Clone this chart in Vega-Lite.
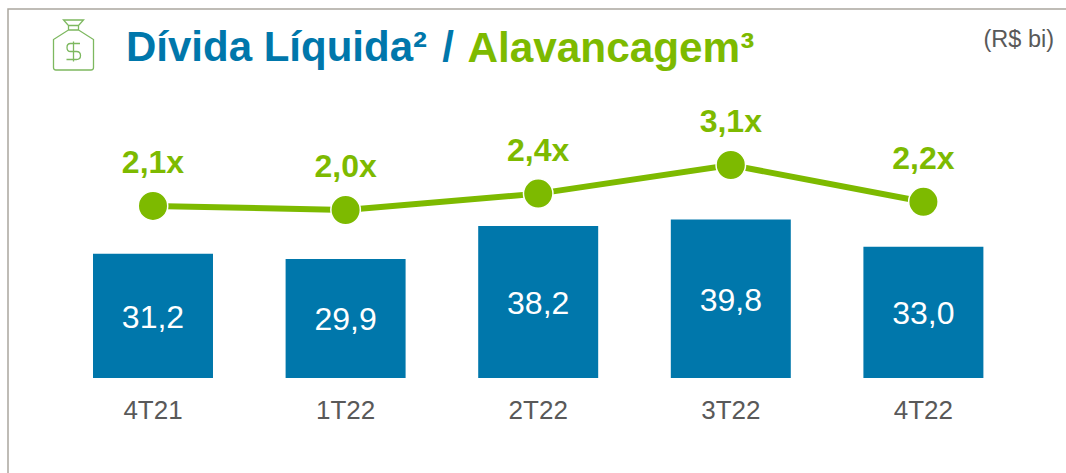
{
"$schema":"https://vega.github.io/schema/vega-lite/v6.json",
"autosize":{"type":"none"},
"padding":{"left":8,"top":9,"right":0,"bottom":0},
"width":1062,"height":468,
"background":"white",
"view":{"stroke":"#ABA79F","strokeWidth":1.5,"fill":null},
"title":{"text":"Dívida Líquida²\u200a /","anchor":"start","frame":"group","orient":"top","offset":0,"dx":118,"dy":61,"font":"Liberation Sans","fontSize":42,"fontWeight":"bold","color":"#0077AB"},
"datasets":{"t":[
{"tri":"4T21","divida":31.2,"alav":2.1,"dl":"31,2","al":"2,1x"},
{"tri":"1T22","divida":29.9,"alav":2.0,"dl":"29,9","al":"2,0x"},
{"tri":"2T22","divida":38.2,"alav":2.4,"dl":"38,2","al":"2,4x"},
{"tri":"3T22","divida":39.8,"alav":3.1,"dl":"39,8","al":"3,1x"},
{"tri":"4T22","divida":33.0,"alav":2.2,"dl":"33,0","al":"2,2x"}
],"i":[{"icone":"saco"}]},
"layer":[
{"data":{"name":"t"},"mark":{"type":"bar","color":"#0077AB"},
"encoding":{
"x":{"field":"tri","type":"nominal","sort":null,"scale":{"type":"band","range":[48.7,1011.7],"paddingInner":0.377,"paddingOuter":0.1885},
"axis":{"title":null,"orient":"bottom","offset":-99,"labelPadding":19.5,"labelAngle":0,"labelFont":"Liberation Sans","labelFontSize":26,"labelColor":"#595959","domain":false,"ticks":false,"grid":false}},
"y":{"field":"divida","type":"quantitative","scale":{"domain":[0,92.7],"range":[369,0],"nice":false,"zero":true},
"axis":{"title":"Alavancagem³","orient":"left","titleX":459,"titleY":52,"titleAngle":0,"titleAlign":"left","titleBaseline":"alphabetic","titleFont":"Liberation Sans","titleFontSize":42.3,"titleFontWeight":"bold","titleColor":"#7DBA00","labels":false,"domain":false,"ticks":false,"grid":false}}
}},
{"data":{"name":"t"},"mark":{"type":"text","font":"Liberation Sans","fontSize":32,"color":"#FFFFFF","baseline":"middle","dy":2},
"encoding":{
"x":{"field":"tri","type":"nominal","sort":null,"scale":{"type":"band","range":[48.7,1011.7],"paddingInner":0.377,"paddingOuter":0.1885},"axis":null},
"y":{"field":"divida","type":"quantitative","scale":{"domain":[0,185.4],"range":[369,0],"nice":false},"axis":null},
"text":{"field":"dl"}
}},
{"data":{"name":"t"},"mark":{"type":"line","color":"#7DBA00","strokeWidth":6},
"encoding":{
"x":{"field":"tri","type":"nominal","sort":null,"scale":{"type":"band","range":[48.7,1011.7],"paddingInner":0.377,"paddingOuter":0.1885},"axis":null},
"y":{"field":"alav","type":"quantitative","scale":{"domain":[-2.108,6.914],"range":[369,0],"nice":false,"zero":false},
"axis":{"title":"(R$ bi)","orient":"left","titleX":975,"titleY":37,"titleAngle":0,"titleAlign":"left","titleBaseline":"alphabetic","titleFont":"Liberation Sans","titleFontSize":23.5,"titleFontWeight":"normal","titleColor":"#595959","labels":false,"domain":false,"ticks":false,"grid":false}}
}},
{"data":{"name":"t"},"mark":{"type":"point","filled":true,"fill":"#7DBA00","stroke":"#FFFFFF","strokeWidth":1.5,"size":870,"opacity":1},
"encoding":{
"x":{"field":"tri","type":"nominal","sort":null,"scale":{"type":"band","range":[48.7,1011.7],"paddingInner":0.377,"paddingOuter":0.1885},"axis":null},
"y":{"field":"alav","type":"quantitative","scale":{"domain":[-2.108,6.914],"range":[369,0],"nice":false,"zero":false},"axis":null}
}},
{"data":{"name":"t"},"mark":{"type":"text","font":"Liberation Sans","fontSize":32,"fontWeight":"bold","color":"#7DBA00","baseline":"middle","dy":-43},
"encoding":{
"x":{"field":"tri","type":"nominal","sort":null,"scale":{"type":"band","range":[48.7,1011.7],"paddingInner":0.377,"paddingOuter":0.1885},"axis":null},
"y":{"field":"alav","type":"quantitative","scale":{"domain":[-2.108,6.914],"range":[369,0],"nice":false,"zero":false},"axis":null},
"text":{"field":"al"}
}},
{"data":{"name":"i"},"mark":{"type":"point","filled":false,"stroke":"#7DB85F","strokeWidth":1.3,"size":4,"opacity":1,"shape":"M-10,-24.5 H10 L5,-19 V-14.5 L20,-5 V23 Q20,25.5 17.5,25.5 H-17.5 Q-20,25.5 -20,23 V-5 L-5,-14.5 V-19 Z M-5,-19 H5 M-5,-14.5 H5 M6.5,-1 H-3 Q-6.5,-1 -6.5,3 Q-6.5,7 -3,7 H3 Q7,7 7,11 Q7,15 3,15 H-7 M0,-3 V17"},
"encoding":{
"x":{"datum":0,"type":"quantitative","scale":{"domain":[0,1],"range":[65.5,1000],"nice":false,"zero":false},"axis":null},
"y":{"datum":0,"type":"quantitative","scale":{"domain":[0,1],"range":[35.5,400],"nice":false,"zero":false},"axis":null}
}}
],
"resolve":{"scale":{"x":"independent","y":"independent"},"axis":{"x":"independent","y":"independent"}}
}
